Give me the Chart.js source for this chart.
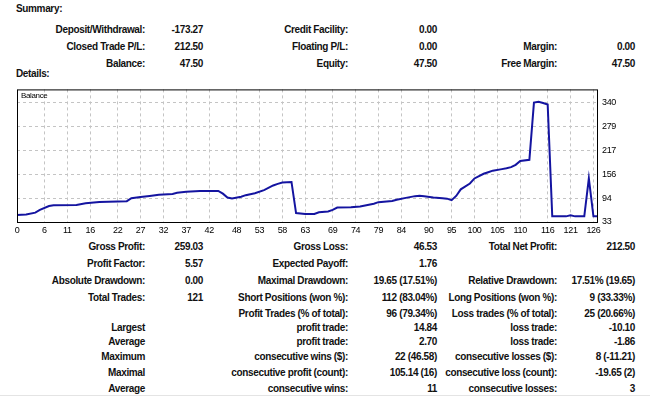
<!DOCTYPE html>
<html>
<head>
<meta charset="utf-8">
<script src="https://cdn.jsdelivr.net/npm/chart.js@4"></script>
<style>
  body { margin: 0; background: #fff; width: 650px; height: 397px; overflow: hidden; position: relative;
         font-family: "Liberation Sans", Arial, sans-serif;
         font-size: 10px; font-weight: bold; letter-spacing: -0.35px; color: #111; }
  .t { position: absolute; white-space: nowrap; line-height: 12px; text-align: right; }
  .h { position: absolute; left: 16px; line-height: 12px; }
  #wrap { position: absolute; left: 0; top: 80px; width: 650px; height: 155px; }
  #foot { position: absolute; left: 0; top: 395px; width: 650px; border-top: 1px solid #e4e4e4; }
</style>
</head>
<body>
<div class="h" style="top:3px">Summary:</div>
<div class="h" style="top:68px">Details:</div>
<div id="wrap"><canvas id="balanceChart" width="650" height="155"></canvas></div>
<div id="foot"></div>
<div id="texts"></div>
<script>
// balance curve (trade index -> balance)
const balanceIndex = [0, 2, 4, 5, 7, 8, 13, 15, 18, 24, 25, 27, 29, 31, 34, 35, 37, 40, 44, 45, 46, 47,
  49, 50, 52, 54, 56, 57, 58, 60, 61, 63, 65, 66, 68, 69, 70, 73, 75, 78, 79, 82, 83, 85, 87, 88, 89,
  91, 93, 94, 95, 96, 97, 99, 100, 102, 103, 104, 106, 107, 108, 109, 110, 112, 113, 114, 115, 116,
  117, 120, 121, 122, 124, 125, 126, 127];
const balanceValues = [51, 52.5, 57, 64, 74, 76, 77, 81, 84.5, 86.5, 94, 97, 100, 103, 105, 108, 111, 113, 113, 106, 96, 93.5,
  98, 102, 107, 115, 127, 131, 134.5, 136, 56, 53.5, 53.5, 58, 60, 64, 70, 71, 73, 80, 84, 87, 90, 95, 99.5, 100.5, 99.5,
  96, 94, 93, 89, 100, 117, 132, 145, 157, 161, 165, 169, 171, 174, 180, 190, 193, 340, 342, 339, 335,
  47.5, 47.5, 50, 47.5, 47.5, 145, 47.5, 47.5];

const xTickLabels = [0, 6, 11, 16, 22, 27, 32, 37, 42, 48, 53, 58, 63, 69, 74, 79, 84, 90, 95, 100, 105, 110, 116, 121, 126];
const yTickLabels = [33, 94, 156, 217, 279, 340];

// report text: [label1, value1, label2, value2, label3, value3]
const summaryRows = [
  ['Deposit/Withdrawal:', '-173.27', 'Credit Facility:', '0.00', '', ''],
  ['Closed Trade P/L:', '212.50', 'Floating P/L:', '0.00', 'Margin:', '0.00'],
  ['Balance:', '47.50', 'Equity:', '47.50', 'Free Margin:', '47.50']
];
const detailRows = [
  ['Gross Profit:', '259.03', 'Gross Loss:', '46.53', 'Total Net Profit:', '212.50'],
  ['Profit Factor:', '5.57', 'Expected Payoff:', '1.76', '', ''],
  ['Absolute Drawdown:', '0.00', 'Maximal Drawdown:', '19.65 (17.51%)', 'Relative Drawdown:', '17.51% (19.65)'],
  ['Total Trades:', '121', 'Short Positions (won %):', '112 (83.04%)', 'Long Positions (won %):', '9 (33.33%)'],
  ['', '', 'Profit Trades (% of total):', '96 (79.34%)', 'Loss trades (% of total):', '25 (20.66%)'],
  ['Largest', '', 'profit trade:', '14.84', 'loss trade:', '-10.10'],
  ['Average', '', 'profit trade:', '2.70', 'loss trade:', '-1.86'],
  ['Maximum', '', 'consecutive wins ($):', '22 (46.58)', 'consecutive losses ($):', '8 (-11.21)'],
  ['Maximal', '', 'consecutive profit (count):', '105.14 (16)', 'consecutive loss (count):', '-19.65 (2)'],
  ['Average', '', 'consecutive wins:', '11', 'consecutive losses:', '3']
];

const colRight = [145, 203, 348, 437, 557, 635];
const summaryY = [30, 47, 64];
const detailY = [247, 264, 281, 298, 314, 328, 342, 357, 373, 389];

function writeRows(rows, ys) {
  const box = document.getElementById('texts');
  rows.forEach((row, r) => {
    row.forEach((txt, c) => {
      if (!txt) return;
      const d = document.createElement('div');
      d.className = 't';
      d.textContent = txt;
      d.style.right = (650 - colRight[c]) + 'px';
      d.style.top = (ys[r] - 6) + 'px';
      box.appendChild(d);
    });
  });
}
writeRows(summaryRows, summaryY);
writeRows(detailRows, detailY);

// frame round the plot and the "Balance" caption
const framePlugin = {
  id: 'frame',
  afterDatasetsDraw(chart) {
    const a = chart.chartArea, ctx = chart.ctx;
    ctx.save();
    ctx.strokeStyle = '#000';
    ctx.lineWidth = 1;
    ctx.strokeRect(a.left + 0.5, a.top + 0.5, a.right - a.left - 1, a.bottom - a.top);
    ctx.fillStyle = '#000';
    ctx.font = '8px "Liberation Sans", sans-serif';
    ctx.textBaseline = 'middle';
    ctx.fillText('Balance', a.left + 4, a.top + 6);
    ctx.restore();
  }
};

new Chart(document.getElementById('balanceChart'), {
  type: 'line',
  data: {
    datasets: [{
      label: 'Balance',
      data: balanceIndex.map((x, i) => ({ x: x, y: balanceValues[i] })),
      borderColor: '#1414a0',
      borderWidth: 2,
      pointRadius: 0,
      tension: 0,
      fill: false
    }]
  },
  options: {
    responsive: false,
    animation: false,
    layout: { padding: { left: 17, top: 7, right: 0, bottom: 0 } },
    plugins: { legend: { display: false }, tooltip: { enabled: false } },
    scales: {
      x: {
        type: 'linear',
        min: 0,
        max: 127,
        afterBuildTicks: s => { s.ticks = xTickLabels.map(v => ({ value: v })); },
        afterFit: s => { s.height = 13; },
        grid: { color: '#c4c4c4', drawTicks: false },
        border: { display: false, dash: [3, 3] },
        ticks: { autoSkip: false, maxRotation: 0, padding: 3, color: '#000',
                 font: { size: 9, family: '"Liberation Sans", sans-serif' } }
      },
      y: {
        position: 'right',
        min: 33,
        max: 374,
        afterBuildTicks: s => { s.ticks = yTickLabels.map(v => ({ value: v })); },
        afterFit: s => { s.width = 52; },
        grid: { color: '#c4c4c4', drawTicks: false },
        border: { display: false, dash: [3, 3] },
        ticks: { padding: 4, color: '#000',
                 font: { size: 9, family: '"Liberation Sans", sans-serif' } }
      }
    }
  },
  plugins: [framePlugin]
});
</script>
</body>
</html>
